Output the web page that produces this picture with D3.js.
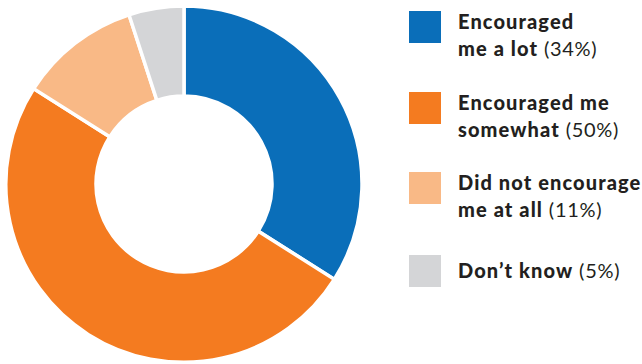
<!DOCTYPE html>
<html>
<head>
<meta charset="utf-8">
<script src="https://cdn.jsdelivr.net/npm/d3@7"></script>
<style>
  html, body { margin: 0; padding: 0; background: #fff; }
  svg { display: block; }
  text { font-family: Lato, "Open Sans", sans-serif; fill: #231f20; }
</style>
</head>
<body>
<svg id="chart" width="642" height="364"></svg>
<script>
// Survey responses, share of respondents (%)
const categories = ["Encouraged me a lot", "Encouraged me somewhat", "Did not encourage me at all", "Don\u2019t know"];
const values = [34, 50, 11, 5];
const colors = ["#0a6eb9", "#f47b20", "#f9b986", "#d4d5d7"];
// Legend wording: bold lines, with the percentage appended to the last line
const legendLines = [
  ["Encouraged", "me a lot"],
  ["Encouraged me", "somewhat"],
  ["Did not encourage", "me at all"],
  ["Don\u2019t know"]
];

const svg = d3.select("#chart");
const cx = 184, cy = 184, outerR = 178, innerR = 88;

const pie = d3.pie().sort(null).value(d => d)(values);
const arc = d3.arc().innerRadius(innerR).outerRadius(outerR);

svg.append("g")
  .attr("transform", `translate(${cx},${cy})`)
  .selectAll("path")
  .data(pie)
  .join("path")
  .attr("d", arc)
  .attr("fill", (d, i) => colors[i])
  .attr("stroke", "#fff")
  .attr("stroke-width", 3.5)
  .attr("stroke-linejoin", "miter");

// Legend
const legendX = 409, swatch = 32, textX = 458;
const groupTop = [11, 92, 172, 255];
const lineH = 27;

const items = svg.append("g").selectAll("g")
  .data(categories)
  .join("g")
  .attr("transform", (d, i) => `translate(0,${groupTop[i]})`);

items.append("rect")
  .attr("x", legendX).attr("y", 0)
  .attr("width", swatch).attr("height", swatch)
  .attr("fill", (d, i) => colors[i]);

items.each(function(d, i) {
  const g = d3.select(this);
  const lines = legendLines[i];
  const firstBase = lines.length === 1 ? 23 : 18;
  lines.forEach((ln, j) => {
    const t = g.append("text")
      .attr("x", textX)
      .attr("y", firstBase + j * lineH)
      .style("font-size", "20px")
      .style("letter-spacing", "1.1px");
    t.append("tspan").style("font-weight", 900).text(ln);
    if (j === lines.length - 1) {
      t.append("tspan").style("font-weight", 400).style("letter-spacing", "0.7px")
        .text(` (${values[i]}%)`);
    }
  });
});
</script>
</body>
</html>
